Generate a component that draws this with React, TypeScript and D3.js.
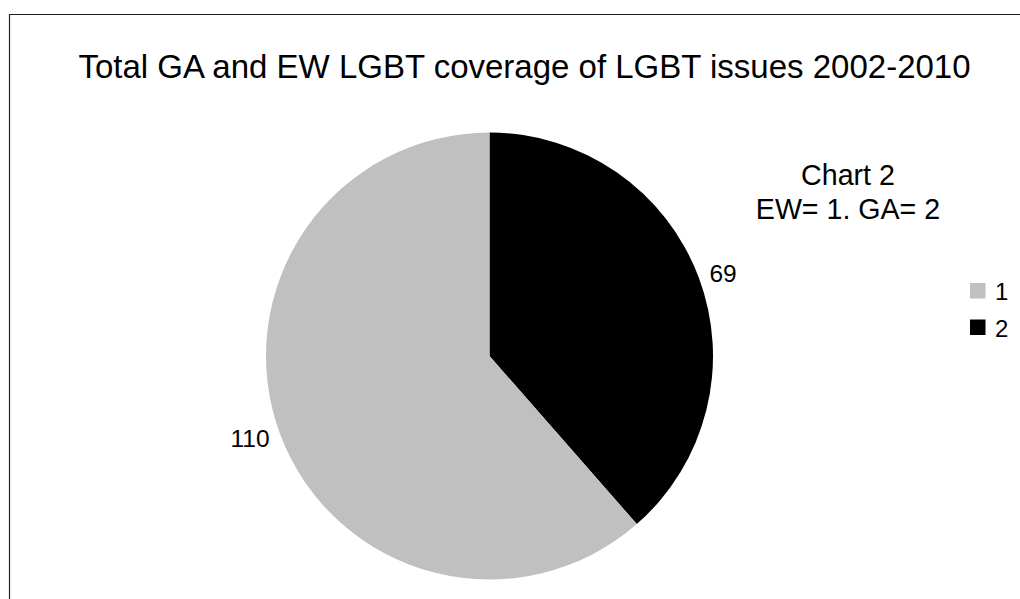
import React from "react";
import * as d3 from "d3";

const categories = ["1", "2"];
const values = [110, 69];
const colors = ["#c0c0c0", "#000000"];
const title = "Total GA and EW LGBT coverage of LGBT issues 2002-2010";
const noteLines = ["Chart 2", "EW= 1. GA= 2"];

export default function App() {
  const W = 1020, H = 599;
  const cx = 489.5, cy = 356, r = 223.5;
  const data = categories.map((c, i) => ({ c, v: values[i], color: colors[i] }));
  // black slice (2) starts at 12 o'clock clockwise, grey fills rest
  const order = [1, 0];
  const pie = d3.pie<any>().sort(null).value((d) => d.v);
  const arcs = pie(order.map((i) => data[i]));
  const arcGen = d3.arc<any>().innerRadius(0).outerRadius(r);
  const labelR = 235;
  const font = "'Liberation Sans', Arial, sans-serif";
  return (
    <svg width={W} height={H} style={{ position: "absolute", left: 0, top: 0, background: "#fff" }} fontFamily={font}>
      <rect x={0} y={0} width={W} height={H} fill="#fff" />
      <path d={`M9.5,${H + 2} V14.5 H${W + 2}`} fill="none" stroke="#222" strokeWidth={1.2} />
      <text x={524.5} y={78} textAnchor="middle" fontSize={33} fill="#000">{title}</text>
      <g transform={`translate(${cx},${cy})`}>
        {arcs.map((a, i) => (
          <path key={i} d={arcGen(a) as string} fill={a.data.color} />
        ))}
        {arcs.map((a, i) => {
          const mid = (a.startAngle + a.endAngle) / 2;
          const x = labelR * Math.sin(mid);
          const y = -labelR * Math.cos(mid);
          return (
            <text key={"l" + i} x={x} y={y} textAnchor={x >= 0 ? "start" : "end"} dy="0.35em" fontSize={24.5} fill="#000">
              {a.data.v}
            </text>
          );
        })}
      </g>
      {noteLines.map((t, i) => (
        <text key={t} x={848} y={185 + i * 34} textAnchor="middle" fontSize={28.6} fill="#000">{t}</text>
      ))}
      {data.map((d, i) => (
        <g key={d.c} transform={`translate(970,${283 + i * 36.5})`}>
          <rect x={0} y={0} width={15.5} height={15.5} fill={d.color} />
          <text x={25} y={17} fontSize={24} fill="#000">{d.c}</text>
        </g>
      ))}
    </svg>
  );
}
